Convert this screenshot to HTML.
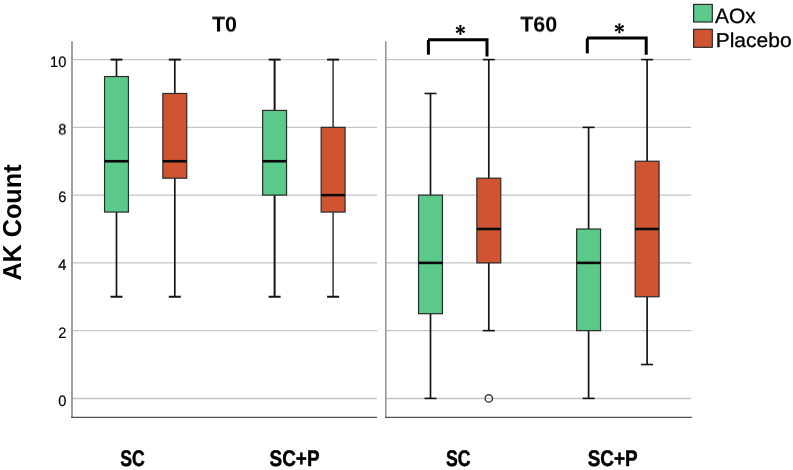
<!DOCTYPE html>
<html><head><meta charset="utf-8"><title>AK Count boxplot</title>
<style>html,body{margin:0;padding:0;background:#fff;}body{width:793px;height:470px;position:relative;overflow:hidden;font-family:"Liberation Sans",sans-serif;}</style></head>
<body>
<svg width="793" height="470" viewBox="0 0 793 470" style="position:absolute;left:0;top:0;will-change:transform">
<defs>
<filter id="soft" filterUnits="userSpaceOnUse" x="0" y="0" width="793" height="470" color-interpolation-filters="sRGB"><feConvolveMatrix order="3" kernelMatrix="0.01210 0.08580 0.01210 0.08580 0.60840 0.08580 0.01210 0.08580 0.01210" divisor="1" edgeMode="duplicate" preserveAlpha="false"/></filter>
<filter id="up5" filterUnits="userSpaceOnUse" x="0" y="0" width="793" height="470" color-interpolation-filters="sRGB"><feConvolveMatrix order="1 2" kernelMatrix="0.5 0.5" targetX="0" targetY="0" divisor="1" edgeMode="none" preserveAlpha="false"/></filter>
</defs>
<g>
<g stroke="#c5c5c5" stroke-width="1.45">
<line x1="72.0" x2="377.0" y1="398.40" y2="398.40"/>
<line x1="72.0" x2="377.0" y1="330.64" y2="330.64"/>
<line x1="72.0" x2="377.0" y1="262.88" y2="262.88"/>
<line x1="72.0" x2="377.0" y1="195.12" y2="195.12"/>
<line x1="72.0" x2="377.0" y1="127.36" y2="127.36"/>
<line x1="72.0" x2="377.0" y1="59.60" y2="59.60"/>
<line x1="386.0" x2="691.3" y1="398.40" y2="398.40"/>
<line x1="386.0" x2="691.3" y1="330.64" y2="330.64"/>
<line x1="386.0" x2="691.3" y1="262.88" y2="262.88"/>
<line x1="386.0" x2="691.3" y1="195.12" y2="195.12"/>
<line x1="386.0" x2="691.3" y1="127.36" y2="127.36"/>
<line x1="386.0" x2="691.3" y1="59.60" y2="59.60"/>
</g>
<line x1="72.0" x2="72.0" y1="41.2" y2="417.90000000000003" stroke="#9c9c9c" stroke-width="1.9"/>
<line x1="71.05" x2="377.0" y1="417.3" y2="417.3" stroke="#555" stroke-width="1.3"/>
<line x1="385.8" x2="385.8" y1="41.2" y2="417.90000000000003" stroke="#8e8e8e" stroke-width="1.45"/>
<line x1="385.07" x2="691.8" y1="417.3" y2="417.3" stroke="#555" stroke-width="1.3"/>
<line x1="116.50" x2="116.50" y1="59.60" y2="296.76" stroke="#161616" stroke-width="1.7"/>
<line x1="110.50" x2="122.50" y1="296.76" y2="296.76" stroke="#141414" stroke-width="2.0"/>
<line x1="110.50" x2="122.50" y1="59.60" y2="59.60" stroke="#141414" stroke-width="2.0"/>
<rect x="104.55" y="76.54" width="23.9" height="135.52" fill="#5bc98a" stroke="#2b2b2b" stroke-width="1.2"/>
<line x1="104.55" x2="128.45" y1="161.24" y2="161.24" stroke="#0a0a0a" stroke-width="2.6"/>
<line x1="174.80" x2="174.80" y1="59.60" y2="296.76" stroke="#161616" stroke-width="1.7"/>
<line x1="168.80" x2="180.80" y1="296.76" y2="296.76" stroke="#141414" stroke-width="2.0"/>
<line x1="168.80" x2="180.80" y1="59.60" y2="59.60" stroke="#141414" stroke-width="2.0"/>
<rect x="162.85" y="93.48" width="23.9" height="84.70" fill="#d05432" stroke="#2b2b2b" stroke-width="1.2"/>
<line x1="162.85" x2="186.75" y1="161.24" y2="161.24" stroke="#0a0a0a" stroke-width="2.6"/>
<line x1="274.60" x2="274.60" y1="59.60" y2="296.76" stroke="#161616" stroke-width="2.0"/>
<line x1="268.60" x2="280.60" y1="296.76" y2="296.76" stroke="#141414" stroke-width="2.0"/>
<line x1="268.60" x2="280.60" y1="59.60" y2="59.60" stroke="#141414" stroke-width="2.0"/>
<rect x="262.65" y="110.42" width="23.9" height="84.70" fill="#5bc98a" stroke="#2b2b2b" stroke-width="1.2"/>
<line x1="262.65" x2="286.55" y1="161.24" y2="161.24" stroke="#0a0a0a" stroke-width="2.6"/>
<line x1="333.10" x2="333.10" y1="59.60" y2="296.76" stroke="#161616" stroke-width="1.3"/>
<line x1="327.10" x2="339.10" y1="296.76" y2="296.76" stroke="#141414" stroke-width="2.0"/>
<line x1="327.10" x2="339.10" y1="59.60" y2="59.60" stroke="#141414" stroke-width="2.0"/>
<rect x="321.15" y="127.36" width="23.9" height="84.70" fill="#d05432" stroke="#2b2b2b" stroke-width="1.2"/>
<line x1="321.15" x2="345.05" y1="195.12" y2="195.12" stroke="#0a0a0a" stroke-width="2.6"/>
<line x1="430.50" x2="430.50" y1="93.48" y2="398.40" stroke="#161616" stroke-width="1.7"/>
<line x1="424.50" x2="436.50" y1="398.40" y2="398.40" stroke="#141414" stroke-width="1.6"/>
<line x1="424.50" x2="436.50" y1="93.48" y2="93.48" stroke="#141414" stroke-width="1.6"/>
<rect x="418.55" y="195.12" width="23.9" height="118.58" fill="#5bc98a" stroke="#2b2b2b" stroke-width="1.2"/>
<line x1="418.55" x2="442.45" y1="262.88" y2="262.88" stroke="#0a0a0a" stroke-width="2.6"/>
<line x1="488.80" x2="488.80" y1="59.60" y2="330.64" stroke="#161616" stroke-width="1.7"/>
<line x1="482.80" x2="494.80" y1="330.64" y2="330.64" stroke="#141414" stroke-width="1.6"/>
<line x1="482.80" x2="494.80" y1="59.60" y2="59.60" stroke="#141414" stroke-width="1.6"/>
<rect x="476.85" y="178.18" width="23.9" height="84.70" fill="#d05432" stroke="#2b2b2b" stroke-width="1.2"/>
<line x1="476.85" x2="500.75" y1="229.00" y2="229.00" stroke="#0a0a0a" stroke-width="2.6"/>
<line x1="588.60" x2="588.60" y1="127.36" y2="398.40" stroke="#161616" stroke-width="1.7"/>
<line x1="582.60" x2="594.60" y1="398.40" y2="398.40" stroke="#141414" stroke-width="1.6"/>
<line x1="582.60" x2="594.60" y1="127.36" y2="127.36" stroke="#141414" stroke-width="1.6"/>
<rect x="576.65" y="229.00" width="23.9" height="101.64" fill="#5bc98a" stroke="#2b2b2b" stroke-width="1.2"/>
<line x1="576.65" x2="600.55" y1="262.88" y2="262.88" stroke="#0a0a0a" stroke-width="2.6"/>
<line x1="647.10" x2="647.10" y1="59.60" y2="364.52" stroke="#161616" stroke-width="1.7"/>
<line x1="641.10" x2="653.10" y1="364.52" y2="364.52" stroke="#141414" stroke-width="1.6"/>
<line x1="641.10" x2="653.10" y1="59.60" y2="59.60" stroke="#141414" stroke-width="1.6"/>
<rect x="635.15" y="161.24" width="23.9" height="135.52" fill="#d05432" stroke="#2b2b2b" stroke-width="1.2"/>
<line x1="635.15" x2="659.05" y1="229.00" y2="229.00" stroke="#0a0a0a" stroke-width="2.6"/>
<circle cx="488.8" cy="398.40" r="3.7" fill="none" stroke="#444" stroke-width="1.5"/>
<path d="M428.4 54.7 V40.0" fill="none" stroke="#000" stroke-width="3"/>
<path d="M428.09999999999997 39.7 H487.0 V56.6" fill="none" stroke="#000" stroke-width="3" stroke-linejoin="miter"/>
<path d="M587.3 53.4 V38.3" fill="none" stroke="#000" stroke-width="3"/>
<path d="M587.0 38.0 H646.2 V54.7" fill="none" stroke="#000" stroke-width="3" stroke-linejoin="miter"/>
<polygon points="460.95,29.90 461.60,25.05 459.20,25.05 459.85,29.90" fill="#000"/>
<polygon points="460.67,30.38 465.20,28.51 464.00,26.44 460.12,29.42" fill="#000"/>
<polygon points="460.12,30.38 464.00,33.36 465.20,31.29 460.67,29.42" fill="#000"/>
<polygon points="459.85,29.90 459.20,34.75 461.60,34.75 460.95,29.90" fill="#000"/>
<polygon points="460.12,29.42 455.60,31.29 456.80,33.36 460.67,30.38" fill="#000"/>
<polygon points="460.67,29.42 456.80,26.44 455.60,28.51 460.12,30.38" fill="#000"/>
<circle cx="460.4" cy="29.9" r="1.15" fill="#000"/>
<polygon points="619.95,28.30 620.60,23.45 618.20,23.45 618.85,28.30" fill="#000"/>
<polygon points="619.67,28.78 624.20,26.91 623.00,24.84 619.12,27.82" fill="#000"/>
<polygon points="619.12,28.78 623.00,31.76 624.20,29.69 619.67,27.82" fill="#000"/>
<polygon points="618.85,28.30 618.20,33.15 620.60,33.15 619.95,28.30" fill="#000"/>
<polygon points="619.12,27.82 614.60,29.69 615.80,31.76 619.67,28.78" fill="#000"/>
<polygon points="619.67,27.82 615.80,24.84 614.60,26.91 619.12,28.78" fill="#000"/>
<circle cx="619.4" cy="28.3" r="1.15" fill="#000"/>
<rect x="693.6" y="4.4" width="18.7" height="17.6" fill="#5bc98a" stroke="#2b2b2b" stroke-width="1.2"/>
<rect x="693.6" y="29.3" width="18.7" height="18" fill="#d05432" stroke="#2b2b2b" stroke-width="1.2"/>
<g font-family="Liberation Sans, sans-serif" text-rendering="geometricPrecision" fill="#000">
<g filter="url(#up5)"><text transform="translate(212.0,32) scale(1.008,1)" font-size="21.3" font-weight="bold">T0</text></g>
<g filter="url(#up5)"><text transform="translate(520.2,32) scale(1.012,1)" font-size="21.3" font-weight="bold">T60</text></g>
<text transform="translate(715.0,23) scale(1.0,1)" font-size="20.9" stroke="#000" stroke-width="0.3" stroke-linejoin="round">AOx</text>
<text transform="translate(715.7,47) scale(1.05,1)" font-size="20.0" stroke="#000" stroke-width="0.3" stroke-linejoin="round">Placebo</text>
<text transform="translate(66.3,406) scale(0.97,1)" font-size="15.1" stroke="#000" stroke-width="0.2" stroke-linejoin="round" text-anchor="end">0</text>
<text transform="translate(66.3,338) scale(0.97,1)" font-size="15.1" stroke="#000" stroke-width="0.2" stroke-linejoin="round" text-anchor="end">2</text>
<text transform="translate(66.3,270) scale(0.97,1)" font-size="15.1" stroke="#000" stroke-width="0.2" stroke-linejoin="round" text-anchor="end">4</text>
<text transform="translate(66.3,202) scale(0.97,1)" font-size="15.1" stroke="#000" stroke-width="0.2" stroke-linejoin="round" text-anchor="end">6</text>
<g filter="url(#up5)"><text transform="translate(66.3,135) scale(0.97,1)" font-size="15.1" stroke="#000" stroke-width="0.2" stroke-linejoin="round" text-anchor="end">8</text></g>
<text transform="translate(66.3,67) scale(0.97,1)" font-size="15.1" stroke="#000" stroke-width="0.2" stroke-linejoin="round" text-anchor="end">10</text>
<text transform="translate(21,222.55) rotate(-90) scale(0.969,1)" font-size="26" font-weight="bold" text-anchor="middle">AK Count</text>
<text transform="translate(120.3,466) scale(0.784,1)" font-size="22.5" font-weight="bold" stroke="#000" stroke-width="0.5" stroke-linejoin="round">SC</text>
<text transform="translate(269.6,466) scale(0.84,1)" font-size="22.5" font-weight="bold" stroke="#000" stroke-width="0.5" stroke-linejoin="round">SC+P</text>
<text transform="translate(446.0,466) scale(0.784,1)" font-size="22.5" font-weight="bold" stroke="#000" stroke-width="0.5" stroke-linejoin="round">SC</text>
<text transform="translate(587.7,466) scale(0.84,1)" font-size="22.5" font-weight="bold" stroke="#000" stroke-width="0.5" stroke-linejoin="round">SC+P</text>
</g>
</g>
</svg>
</body></html>
